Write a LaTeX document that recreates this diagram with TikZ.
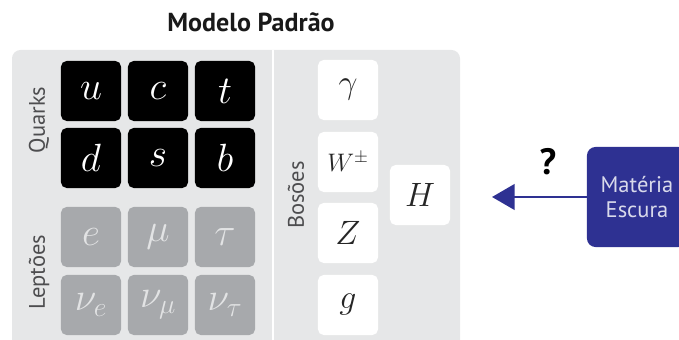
\RequirePackage{fix-cm}
\documentclass[tikz,border=0pt]{standalone}
\usepackage{fontspec}
\setmainfont{PT Sans}
\usetikzlibrary{arrows.meta}

\definecolor{panelgray}{HTML}{E6E7E8}
\definecolor{leptongray}{HTML}{A7A9AC}
\definecolor{leptontext}{HTML}{E2E3E4}
\definecolor{labelgray}{HTML}{4D4D4F}
\definecolor{darkblue}{HTML}{2E3192}

\tikzstyle{particle} = [rounded corners=4pt, minimum width=1.5cm, minimum height=1.5cm, inner sep=0pt]
\tikzstyle{quark} = [particle, fill=black, text=white, font=\fontsize{28}{28}\selectfont]
\tikzstyle{lepton} = [particle, fill=leptongray, text=leptontext, font=\fontsize{28}{28}\selectfont]
\tikzstyle{boson} = [particle, fill=white, text=black!85, font=\fontsize{24}{24}\selectfont]
\tikzstyle{group} = [text=labelgray, font=\fontsize{16}{16}\selectfont, rotate=90]
\tikzstyle{title} = [text=black!90, font=\bfseries\fontsize{18.5}{20}\selectfont]
\tikzstyle{dm} = [fill=darkblue, text=white!82!darkblue, rounded corners=6pt, minimum width=2.5cm, minimum height=2.5cm, align=center, font=\fontsize{16}{18.4}\selectfont]
\tikzstyle{ask} = [font=\bfseries\fontsize{26}{26}\selectfont]
\tikzstyle{toarrow} = [darkblue, line width=2pt, -{Triangle[length=16pt, width=18pt]}]

\begin{document}
\begin{tikzpicture}[x=0.025cm, y=-0.025cm]
	\useasboundingbox (0,0) rectangle (679,340);
	\fill[panelgray, rounded corners=6pt] (12,360) rectangle (460,50);
	\draw[white, line width=1.5pt] (273,50) -- (273,360);
	
	\node[title] (title) at (251,22) {Modelo Padrão};
	
	\node[quark] (u) at (91,91) {$u$};
	\node[quark] (c) at (158,91) {$c$};
	\node[quark] (t) at (225,91) {$t$};
	\node[quark] (d) at (91,158) {$d$};
	\node[quark] (s) at (158,158) {$s$};
	\node[quark] (b) at (225,158) {$b$};
	
	\node[lepton] (e) at (91,237) {$e$};
	\node[lepton] (mu) at (158,237) {$\mu$};
	\node[lepton] (tau) at (225,237) {$\tau$};
	\node[lepton] (nue) at (91,305) {$\nu_e$};
	\node[lepton] (numu) at (158,305) {$\nu_\mu$};
	\node[lepton] (nutau) at (225,305) {$\nu_\tau$};
	
	\node[boson] (gamma) at (348,90) {$\gamma$};
	\node[boson, font=\fontsize{18}{18}\selectfont] (w) at (348,162) {$W^\pm$};
	\node[boson] (z) at (348,233) {$Z$};
	\node[boson] (g) at (348,305) {$g$};
	\node[boson] (h) at (420,195) {$H$};
	
	\node[group] (quarks) at (39,120) {Quarks};
	\node[group] (leptoes) at (39,272) {Leptões};
	\node[group] (bosoes) at (296,195) {Bosões};
	
	\node[dm] (dm) at (637,197) {Matéria\\Escura};
	\coordinate (tip) at (492,197);
	\draw[toarrow] (dm) -- (tip);
	\node[ask] (q) at (548,162) {?};
\end{tikzpicture}
\end{document}
